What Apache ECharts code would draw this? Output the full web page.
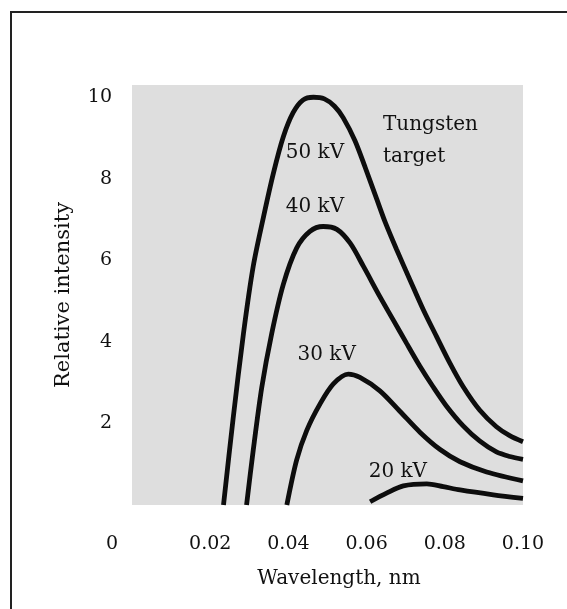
<!DOCTYPE html>
<html>
<head>
<meta charset="utf-8">
<script src="https://cdn.jsdelivr.net/npm/echarts@6/dist/echarts.min.js"></script>
<style>
  html, body { margin: 0; padding: 0; background: #fff; }
  #chart { width: 567px; height: 609px; }
</style>
</head>
<body>
<div id="chart"></div>
<script>
// Tick labels
const xTicks = ['0', '0.02', '0.04', '0.06', '0.08', '0.10'];
const yTicks = ['0', '2', '4', '6', '8', '10'];

// Series: [wavelength nm, relative intensity]
const kv50 = [[0.0234,0],[0.0259,2.15],[0.0285,4.2],[0.031,5.85],[0.0336,7.05],[0.0362,8.15],[0.0387,9.03],[0.0412,9.62],[0.0437,9.93],[0.0464,10.0],[0.0492,9.96],[0.0518,9.78],[0.054,9.5],[0.057,8.94],[0.0596,8.29],[0.0626,7.5],[0.0647,6.95],[0.0677,6.26],[0.0711,5.52],[0.0745,4.79],[0.0779,4.13],[0.0813,3.48],[0.0847,2.9],[0.0889,2.33],[0.0932,1.92],[0.0966,1.7],[0.1,1.55]];
const kv40 = [[0.0293,0],[0.031,1.34],[0.0332,2.89],[0.0357,4.19],[0.0387,5.41],[0.0421,6.3],[0.0455,6.71],[0.0489,6.83],[0.0524,6.76],[0.0558,6.42],[0.0592,5.85],[0.0634,5.11],[0.0668,4.54],[0.0702,3.97],[0.0736,3.41],[0.077,2.9],[0.0804,2.43],[0.0847,1.94],[0.0889,1.57],[0.0932,1.3],[0.0966,1.19],[0.1,1.12]];
const kv30 = [[0.0396,0],[0.0421,1.1],[0.0447,1.83],[0.0481,2.48],[0.0515,2.97],[0.0553,3.21],[0.0583,3.13],[0.0634,2.8],[0.0685,2.3],[0.0737,1.78],[0.0788,1.36],[0.0839,1.06],[0.0907,0.81],[0.1,0.59]];
const kv20 = [[0.0609,0.08],[0.0651,0.29],[0.0694,0.47],[0.0754,0.52],[0.0796,0.45],[0.0839,0.37],[0.0924,0.25],[0.1,0.16]];

// Annotations: text, x, y
const noteTexts = ['50 kV', '40 kV', '30 kV', '20 kV', 'Tungsten\ntarget'];
const noteX = [0.0468, 0.0468, 0.0498, 0.068, 0.0642];
const noteY = [8.64, 7.31, 3.68, 0.81, 8.93];
const noteAlign = ['center', 'center', 'center', 'center', 'left'];

const FONT = 'DejaVu Serif';
const INK = '#111111';

function curve(name, data) {
  return {
    name: name, type: 'line', data: data, smooth: 0.3, symbol: 'none',
    lineStyle: { color: '#0d0d0d', width: 4.8 }, silent: true, z: 3
  };
}

const chart = echarts.init(document.getElementById('chart'), null, { renderer: 'canvas' });
chart.setOption({
  animation: false,
  backgroundColor: '#ffffff',
  grid: {
    left: 132, right: 44, top: 85, bottom: 104,
    show: true, backgroundColor: '#dedede', borderWidth: 0,
    containLabel: false, outerBoundsMode: 'none'
  },
  xAxis: {
    type: 'value', min: 0, max: 0.1, interval: 0.02,
    name: 'Wavelength, nm', nameLocation: 'middle', nameGap: 64,
    nameTextStyle: { fontFamily: FONT, fontSize: 20, color: INK, padding: [0, 0, 0, 23] },
    axisLine: { show: false }, axisTick: { show: false }, splitLine: { show: false },
    axisLabel: {
      margin: 30, fontFamily: FONT, fontSize: 19, color: INK,
      formatter: function (v) {
        const i = Math.round(v / 0.02);
        if (i === 0) return '{o|' + xTicks[0] + '}';
        return xTicks[i];
      },
      rich: { o: { fontFamily: FONT, fontSize: 19, color: INK, padding: [0, 40, 0, 0] } }
    }
  },
  yAxis: {
    type: 'value', min: 0, max: 10.3, interval: 2,
    name: 'Relative intensity', nameLocation: 'middle', nameGap: 58, nameRotate: 90,
    nameTextStyle: { fontFamily: FONT, fontSize: 21, color: INK },
    axisLine: { show: false }, axisTick: { show: false }, splitLine: { show: false },
    axisLabel: {
      margin: 20, fontFamily: FONT, fontSize: 19, color: INK, showMaxLabel: false,
      formatter: function (v) {
        const i = Math.round(v / 2);
        if (i === 0 || Math.abs(v - i * 2) > 1e-6) return '';
        return yTicks[i];
      }
    }
  },
  series: [
    curve('50 kV', kv50),
    curve('40 kV', kv40),
    curve('30 kV', kv30),
    curve('20 kV', kv20),
    {
      type: 'scatter', symbolSize: 0, silent: true, z: 4,
      itemStyle: { opacity: 1 },
      data: noteTexts.map(function (t, i) {
        return {
          value: [noteX[i], noteY[i]],
          label: {
            show: true, position: 'inside', formatter: t,
            align: noteAlign[i], verticalAlign: 'middle',
            fontFamily: FONT, fontSize: 20, color: INK, lineHeight: 32,
            textBorderWidth: 0
          }
        };
      })
    }
  ],
  graphic: [
    {
      type: 'polyline', silent: true,
      shape: { points: [[11, 609], [11, 12], [567, 12]] },
      style: { stroke: '#222', lineWidth: 2, fill: null }
    }
  ]
});
</script>
</body>
</html>
